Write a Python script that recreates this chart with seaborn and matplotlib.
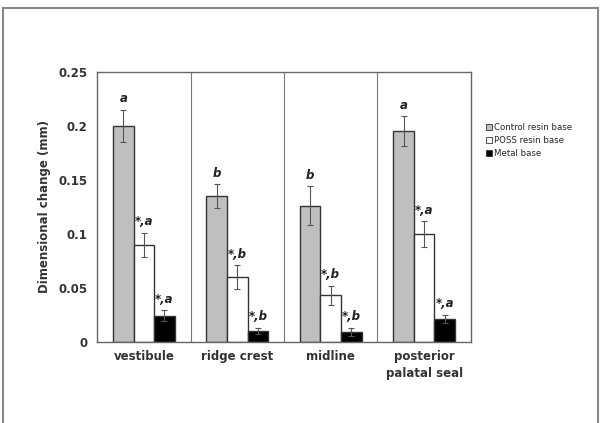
import numpy as np
import pandas as pd
import matplotlib
matplotlib.use('Agg')
import matplotlib.pyplot as plt
import matplotlib.patches as patches
import seaborn as sns

# data
regions = ['vestibule', 'ridge crest', 'midline', 'posterior\npalatal seal']
series = ['Control resin base', 'POSS resin base', 'Metal base']
control_mean = [0.200, 0.135, 0.126, 0.195]
control_sd = [0.015, 0.011, 0.018, 0.014]
poss_mean = [0.090, 0.060, 0.043, 0.100]
poss_sd = [0.011, 0.011, 0.009, 0.012]
metal_mean = [0.024, 0.010, 0.009, 0.021]
metal_sd = [0.005, 0.003, 0.004, 0.004]
control_marks = ['a', 'b', 'b', 'a']
poss_marks = ['*,a', '*,b', '*,b', '*,a']
metal_marks = ['*,a', '*,b', '*,b', '*,a']
ytick_vals = [0, 0.05, 0.1, 0.15, 0.2, 0.25]
ytick_labels = ['0', '0.05', '0.1', '0.15', '0.2', '0.25']

colors = ['#bfbfbf', '#ffffff', '#000000']

df = pd.DataFrame({
    'region': regions * 3,
    'series': [s for s in series for _ in regions],
    'value': control_mean + poss_mean + metal_mean,
})
sds = [control_sd, poss_sd, metal_sd]
marks = [control_marks, poss_marks, metal_marks]

sns.set_style('white')
plt.rcParams['font.family'] = ['DejaVu Sans']

fig = plt.figure(figsize=(6.03, 4.23), dpi=100)
ax = fig.add_axes([0.161, 0.192, 0.620, 0.638])

sns.barplot(data=df, x='region', y='value', hue='series', order=regions,
            hue_order=series, palette=colors, width=0.66, errorbar=None,
            edgecolor='#333333', linewidth=1.0, ax=ax, legend=False)

bar_groups = list(ax.containers)
for i, cont in enumerate(bar_groups):
    xs = [b.get_x() + b.get_width() / 2 for b in cont]
    hs = [b.get_height() for b in cont]
    ax.errorbar(xs, hs, yerr=sds[i], fmt='none', ecolor='#555555',
                elinewidth=0.8, capsize=2, capthick=0.8, zorder=5)
    for x, h, s, m in zip(xs, hs, sds[i], marks[i]):
        ax.text(x, h + s + 0.004, m, ha='center', va='bottom', fontsize=8.5,
                fontweight='bold', fontstyle='italic', color='#222222')

for xv in [0.5, 1.5, 2.5]:
    ax.axvline(xv, color='#777777', lw=0.8, zorder=0)

ax.set_xlim(-0.5, 3.5)
ax.set_ylim(0, 0.25)
ax.set_yticks(ytick_vals)
ax.set_yticklabels(ytick_labels, fontsize=8.5, fontweight='bold', color='#333333')
ax.set_xticks(range(len(regions)))
ax.set_xticklabels(regions, fontsize=8.5, fontweight='bold', color='#333333',
                   linespacing=1.35)
ax.tick_params(axis='x', length=0, pad=6)
ax.tick_params(axis='y', direction='in', length=3, width=0.8, color='#555555', pad=7)
ax.set_xlabel('')
ax.set_ylabel('Dimensional change (mm)', fontsize=8.5, fontweight='bold',
              color='#333333', labelpad=5)
for sp in ax.spines.values():
    sp.set_visible(True)
    sp.set_color('#666666')
    sp.set_linewidth(1.0)

handles = [patches.Patch(facecolor=c, edgecolor='#333333', linewidth=0.6) for c in colors]
fig.legend(handles, series, loc='upper left', bbox_to_anchor=(0.800, 0.717),
           frameon=False, fontsize=6.2, handlelength=0.7, handleheight=0.7,
           handletextpad=0.3, labelspacing=0.45, borderaxespad=0)

frame = patches.Rectangle((3 / 603, -0.05), 595 / 603, 1.05 - 8 / 423,
                          transform=fig.transFigure, fill=False,
                          edgecolor='#888888', linewidth=1.5)
fig.patches.append(frame)

fig.savefig('out.png', dpi=100)
